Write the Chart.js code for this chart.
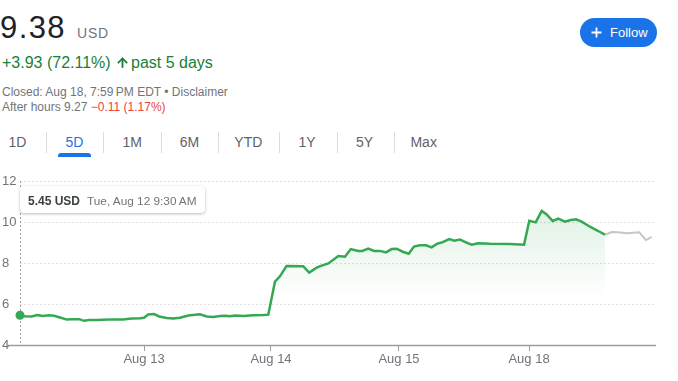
<!DOCTYPE html>
<html><head><meta charset="utf-8">
<script src="https://cdn.jsdelivr.net/npm/chart.js@4.4.1/dist/chart.umd.min.js"></script>
<style>
html,body{margin:0;padding:0;background:#fff;}
body{width:678px;height:381px;position:relative;overflow:hidden;font-family:Arial,"Liberation Sans",sans-serif;}
.abs{position:absolute;white-space:nowrap;}
.tab{position:absolute;top:135px;width:50px;text-align:center;font-size:14px;line-height:14px;color:#5f6368;}
.sep{position:absolute;top:132px;width:1px;height:21px;background:#dadce0;}
#chartbox{position:absolute;left:0;top:170px;width:678px;height:211px;}
#tip{position:absolute;height:27px;box-sizing:border-box;padding:0 8px;background:#fff;border-radius:4px;box-shadow:0 1px 3px rgba(60,64,67,.35);white-space:nowrap;line-height:27px;}
</style></head><body>
<div class="abs" style="left:0;top:12px;font-size:31px;line-height:31px;letter-spacing:1.4px;color:#202124">9.38</div>
<div class="abs" style="left:77px;top:26px;font-size:14px;line-height:14px;letter-spacing:0.8px;color:#70757a">USD</div>

<div class="abs" style="left:2px;top:54.5px;font-size:16px;line-height:16px;color:#188038">+3.93 (72.11%)</div>
<svg class="abs" style="left:114.5px;top:55px" width="15" height="15" viewBox="0 0 24 24"><path d="M4 12l1.41 1.41L11 7.83V20h2V7.83l5.58 5.59L20 12l-8-8-8 8z" fill="#188038" stroke="#188038" stroke-width="0.9"/></svg>
<div class="abs" style="left:131px;top:54.5px;font-size:16px;line-height:16px;color:#188038">past 5 days</div>

<div class="abs" style="left:2px;top:86px;font-size:12px;line-height:12px;color:#70757a">Closed: Aug 18, 7:59&#8201;PM EDT • Disclaimer</div>
<div class="abs" style="left:2px;top:100.5px;font-size:12px;line-height:12px;color:#70757a">After hours 9.27 <span style="color:#e8453c">−0.11 (1.17%)</span></div>

<div class="abs" style="left:580px;top:18px;width:77px;height:29px;border-radius:15px;background:#1a73e8;"></div>
<svg class="abs" style="left:591px;top:27px" width="11" height="11" viewBox="0 0 11 11"><path d="M5.5 0.5V10.5M0.5 5.5H10.5" stroke="#fff" stroke-width="1.8"/></svg>
<div class="abs" style="left:610px;top:26px;font-size:13px;line-height:13px;color:#fff">Follow</div>

<div id="tabs"></div>
<div class="abs" style="left:58px;top:153px;width:33px;height:4px;border-radius:3px 3px 0 0;background:#1a73e8"></div>

<div id="chartbox"><canvas id="c" width="678" height="211"></canvas></div>
<div id="tip"><span style="font-size:12px;font-weight:bold;color:#3c4043">5.45 USD</span><span style="font-size:11.8px;color:#70757a;margin-left:7px">Tue, Aug 12 9:30&#8201;AM</span></div>

<script>
// ---- data (x = trading-day position since Aug 12 9:30) ----
const sessionTimes = [0,0.039,0.091,0.135,0.177,0.229,0.266,0.313,0.365,0.404,0.463,0.5,0.541,0.599,0.648,0.727,0.805,0.873,0.938,0.969,1.002,1.047,1.088,1.146,1.198,1.25,1.315,1.406,1.459,1.51,1.563,1.602,1.641,1.68,1.745,1.823,1.901,1.94,1.992,2.031,2.082,2.213,2.26,2.318,2.357,2.409,2.487,2.539,2.584,2.643,2.674,2.721,2.766,2.813,2.859,2.904,2.943,2.99,3.037,3.078,3.125,3.172,3.216,3.26,3.302,3.354,3.393,3.438,3.484,3.529,3.58,3.672,3.828,3.938,3.979,4.029,4.076,4.115,4.162,4.205,4.258,4.302,4.344,4.388,4.453,4.518,4.57];
const sessionPrices = [5.45,5.40,5.39,5.46,5.41,5.45,5.43,5.34,5.24,5.26,5.26,5.18,5.22,5.22,5.23,5.25,5.25,5.29,5.30,5.33,5.49,5.51,5.39,5.32,5.29,5.33,5.44,5.50,5.39,5.37,5.41,5.43,5.40,5.44,5.42,5.45,5.46,5.48,7.09,7.35,7.85,7.84,7.53,7.77,7.87,7.98,8.34,8.31,8.68,8.59,8.59,8.70,8.59,8.59,8.52,8.68,8.70,8.55,8.45,8.80,8.86,8.86,8.76,8.94,9.02,9.17,9.09,9.14,9.01,8.89,8.96,8.94,8.93,8.89,10.06,9.98,10.54,10.37,10.05,10.16,10.02,10.10,10.13,10.02,9.77,9.56,9.38];
const afterTimes = [4.57,4.623,4.674,4.74,4.791,4.838,4.891,4.935];
const afterPrices = [9.38,9.51,9.50,9.45,9.48,9.50,9.12,9.27];
const xTickPositions = [0.969,1.961,2.961,3.977];
const xTickLabels = ['Aug 13','Aug 14','Aug 15','Aug 18'];
const yTicks = [4,6,8,10,12];
const rangeTabs = ['1D','5D','1M','6M','YTD','1Y','5Y','Max'];
const tabCenters = [17.5,74.5,132.3,189.5,248.3,307,364.5,423.7];
const sepPositions = [46,103,161,218,279,337,394];

// ---- tabs ----
const tabsEl = document.getElementById('tabs');
rangeTabs.forEach((t,i)=>{
  const d=document.createElement('div'); d.className='tab'; d.textContent=t;
  d.style.left=(tabCenters[i]-25)+'px'; if(t==='5D') d.style.color='#1a73e8';
  tabsEl.appendChild(d);
});
sepPositions.forEach(x=>{const s=document.createElement('div'); s.className='sep'; s.style.left=x+'px'; tabsEl.appendChild(s);});

// ---- chart ----
Chart.defaults.font.family = 'Arial, "Liberation Sans", sans-serif';
const green = '#34a853';
const overlay = {
  id:'overlay',
  beforeDatasetsDraw(chart){
    const {ctx, chartArea:ca} = chart; const x = chart.scales.x.getPixelForValue(sessionTimes[0]);
    ctx.save(); ctx.strokeStyle='#9aa0a6'; ctx.lineWidth=1; ctx.setLineDash([2,2]);
    ctx.beginPath(); ctx.moveTo(Math.round(x)+0.5, ca.top); ctx.lineTo(Math.round(x)+0.5, ca.bottom); ctx.stroke(); ctx.restore();
  },
  afterDraw(chart){
    const {ctx, chartArea:ca} = chart;
    ctx.save(); ctx.strokeStyle='#9aa0a6'; ctx.lineWidth=1.5;
    ctx.beginPath(); ctx.moveTo(8, ca.bottom+0.5); ctx.lineTo(ca.right, ca.bottom+0.5); ctx.stroke(); ctx.restore();
  }
};
const chart = new Chart(document.getElementById('c'), {
  type:'line',
  data:{datasets:[
    {data: sessionTimes.map((t,i)=>({x:t,y:sessionPrices[i]})), borderColor:green, borderWidth:2.5, tension:0,
     pointRadius:c=>c.dataIndex===0?4.5:0, pointBackgroundColor:green, pointBorderWidth:0, clip:false,
     fill:'start',
     backgroundColor:(c)=>{const ca=c.chart.chartArea; if(!ca) return 'rgba(52,168,83,0.1)';
       const g=c.chart.ctx.createLinearGradient(0,ca.top,0,ca.bottom);
       g.addColorStop(0,'rgba(52,168,83,0.2)'); g.addColorStop(0.72,'rgba(52,168,83,0)'); return g;}},
    {data: afterTimes.map((t,i)=>({x:t,y:afterPrices[i]})), borderColor:'#c6c6c6', borderWidth:2, tension:0, pointRadius:0, fill:false}
  ]},
  options:{
    responsive:false, animation:false, events:[],
    layout:{padding:{left:2,right:22,top:11,bottom:0}},
    plugins:{legend:{display:false}, tooltip:{enabled:false}},
    scales:{
      x:{type:'linear', min:0, max:4.969,
         afterBuildTicks:s=>{s.ticks=xTickPositions.map(v=>({value:v}));},
         ticks:{callback:(v,i)=>xTickLabels[i], font:{size:13}, color:'#70757a', padding:1, maxRotation:0, autoSkip:false},
         grid:{display:true, drawOnChartArea:false, drawTicks:true, tickLength:6, color:'#9aa0a6'},
         border:{display:false},
         afterFit:s=>{s.height=36;}},
      y:{min:4, max:12,
         afterBuildTicks:s=>{s.ticks=yTicks.map(v=>({value:v}));},
         ticks:{crossAlign:'far', font:{size:13}, color:'#70757a', padding:3},
         grid:{color:'#dedede', drawTicks:false},
         border:{display:false, dash:[2,2]},
         afterFit:s=>{s.width=18;}}
    }
  },
  plugins:[overlay]
});
const ca = chart.chartArea;
const tip = document.getElementById('tip');
tip.style.left = chart.scales.x.getPixelForValue(sessionTimes[0]) + 'px';
tip.style.top = (170 + ca.top + 5) + 'px';
</script>
</body></html>
